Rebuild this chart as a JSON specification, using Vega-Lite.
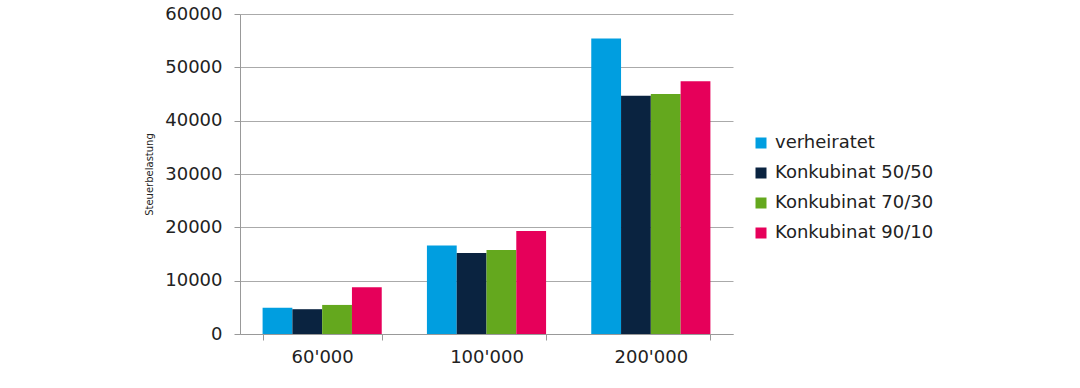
{
  "$schema": "https://vega.github.io/schema/vega-lite/v6.json",
  "autosize": {"type": "none"},
  "width": 493,
  "height": 320,
  "padding": {"left": 240, "top": 14, "right": 347, "bottom": 54},
  "background": "white",
  "config": {
    "font": "DejaVu Sans",
    "view": {"stroke": null}
  },
  "data": {
    "values": [
      {"einkommen": "60'000", "status": "verheiratet", "steuer": 4900},
      {"einkommen": "60'000", "status": "Konkubinat 50/50", "steuer": 4650},
      {"einkommen": "60'000", "status": "Konkubinat 70/30", "steuer": 5450},
      {"einkommen": "60'000", "status": "Konkubinat 90/10", "steuer": 8750},
      {"einkommen": "100'000", "status": "verheiratet", "steuer": 16600},
      {"einkommen": "100'000", "status": "Konkubinat 50/50", "steuer": 15200},
      {"einkommen": "100'000", "status": "Konkubinat 70/30", "steuer": 15750},
      {"einkommen": "100'000", "status": "Konkubinat 90/10", "steuer": 19300},
      {"einkommen": "200'000", "status": "verheiratet", "steuer": 55400},
      {"einkommen": "200'000", "status": "Konkubinat 50/50", "steuer": 44650},
      {"einkommen": "200'000", "status": "Konkubinat 70/30", "steuer": 45000},
      {"einkommen": "200'000", "status": "Konkubinat 90/10", "steuer": 47400}
    ]
  },
  "mark": {"type": "bar"},
  "encoding": {
    "x": {
      "field": "einkommen",
      "type": "nominal",
      "sort": ["60'000", "100'000", "200'000"],
      "scale": {"paddingInner": 0.275, "paddingOuter": 0.1375},
      "axis": {
        "title": null,
        "labelAngle": 0,
        "labelFontSize": 18,
        "labelColor": "#222222",
        "labelPadding": 8,
        "tickBand": "extent",
        "tickSize": 6,
        "tickColor": "#999999",
        "domainColor": "#999999",
        "grid": false
      }
    },
    "xOffset": {
      "field": "status",
      "type": "nominal",
      "sort": ["verheiratet", "Konkubinat 50/50", "Konkubinat 70/30", "Konkubinat 90/10"],
      "scale": {"paddingInner": 0, "paddingOuter": 0}
    },
    "y": {
      "field": "steuer",
      "type": "quantitative",
      "scale": {"domain": [0, 60000], "nice": false},
      "axis": {
        "title": "Steuerbelastung",
        "titleFontSize": 10,
        "titleFontWeight": "normal",
        "titleColor": "#222222",
        "titlePadding": 10,
        "values": [0, 10000, 20000, 30000, 40000, 50000, 60000],
        "format": "d",
        "labelFontSize": 18,
        "labelColor": "#222222",
        "labelPadding": 12,
        "tickSize": 6,
        "tickColor": "#999999",
        "domainColor": "#999999",
        "gridColor": "#aaaaaa",
        "gridWidth": 1
      }
    },
    "color": {
      "field": "status",
      "type": "nominal",
      "sort": ["verheiratet", "Konkubinat 50/50", "Konkubinat 70/30", "Konkubinat 90/10"],
      "scale": {
        "domain": ["verheiratet", "Konkubinat 50/50", "Konkubinat 70/30", "Konkubinat 90/10"],
        "range": ["#009ee0", "#0a2340", "#64a81e", "#e6005a"]
      },
      "legend": {
        "title": null,
        "orient": "none",
        "legendX": 512,
        "legendY": 120,
        "symbolType": "square",
        "symbolSize": 121,
        "symbolStrokeWidth": 0,
        "labelFontSize": 18,
        "labelColor": "#222222",
        "labelOffset": 5,
        "rowPadding": 12
      }
    }
  }
}
